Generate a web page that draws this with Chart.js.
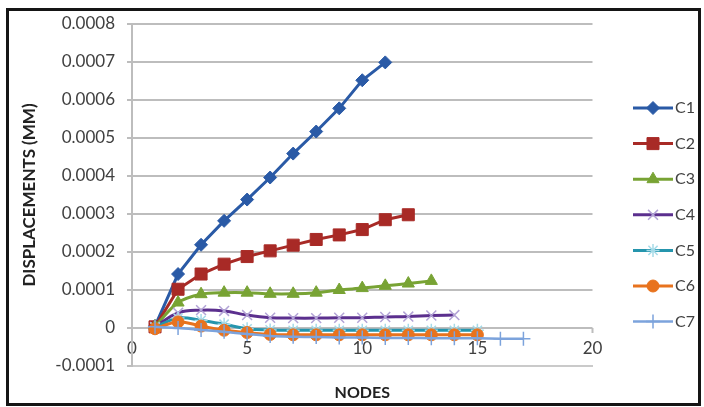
<!DOCTYPE html>
<html>
<head>
<meta charset="utf-8">
<script src="https://cdn.jsdelivr.net/npm/chart.js@4/dist/chart.umd.min.js"></script>
<style>
  html, body { margin: 0; padding: 0; background: #fff; }
  #wrap { position: relative; width: 704px; height: 407px; }
  #frame { position: absolute; left: 6px; top: 8px; width: 695px; height: 398px;
           border: 3px solid #151515; box-sizing: border-box; pointer-events: none; }
  canvas { position: absolute; left: 0; top: 0; }
</style>
</head>
<body>
<div id="wrap">
  <canvas id="c" width="704" height="407"></canvas>
  <div id="frame"></div>
</div>
<script>
// Node numbers along the column
const nodes = [1, 2, 3, 4, 5, 6, 7, 8, 9, 10, 11, 12, 13, 14, 15, 16, 17];

// Displacements (mm) per node for each column
const c1 = [0.000005, 0.000142, 0.000219, 0.000282, 0.000338, 0.000396, 0.000459, 0.000517, 0.000578, 0.000652, 0.000699];
const c2 = [0.000003, 0.000102, 0.000142, 0.000168, 0.000188, 0.000203, 0.000218, 0.000233, 0.000245, 0.000259, 0.000285, 0.000298];
const c3 = [0.000004, 0.000067, 0.000089, 0.000093, 0.000093, 0.000090, 0.000090, 0.000093, 0.000100, 0.000105, 0.000111, 0.000117, 0.000124];
const c4 = [0.000003, 0.000040, 0.000047, 0.000045, 0.000034, 0.000027, 0.000026, 0.000026, 0.000027, 0.000027, 0.000029, 0.000030, 0.000033, 0.000034];
const c5 = [0.000002, 0.000026, 0.000020, 0.000010, -0.000002, -0.000005, -0.000006, -0.000006, -0.000006, -0.000006, -0.000006, -0.000006, -0.000006, -0.000006, -0.000006];
const c6 = [-0.000002, 0.000016, 0.000005, -0.000006, -0.000012, -0.000017, -0.000018, -0.000018, -0.000018, -0.000018, -0.000018, -0.000018, -0.000018, -0.000018, -0.000018];
const c7 = [0.000003, 0.000000, -0.000005, -0.000010, -0.000016, -0.000021, -0.000023, -0.000024, -0.000025, -0.000025, -0.000026, -0.000026, -0.000027, -0.000027, -0.000027, -0.000028, -0.000028];

const seriesNames = ['C1', 'C2', 'C3', 'C4', 'C5', 'C6', 'C7'];
const seriesValues = [c1, c2, c3, c4, c5, c6, c7];

// Axis ticks
const xTicks = [0, 5, 10, 15, 20];
const yTicks = [-0.0001, 0, 0.0001, 0.0002, 0.0003, 0.0004, 0.0005, 0.0006, 0.0007, 0.0008];

const styles = [
  { line: '#2a5aa6', fill: '#2a5aa6', stroke: '#2a5aa6', point: 'rectRot', r: 6.5, bw: 1, tension: 0 },
  { line: '#a82a26', fill: '#a82a26', stroke: '#a82a26', point: 'rect',    r: 8.5, bw: 1, tension: 0 },
  { line: '#78a334', fill: '#78a334', stroke: '#78a334', point: 'triangle',r: 7,   bw: 1, tension: 0.3 },
  { line: '#5b2f8e', fill: 'rgba(0,0,0,0)', stroke: '#b2a3d6', point: 'crossRot', r: 7, bw: 1.5, tension: 0.4 },
  { line: '#2595ad', fill: 'rgba(0,0,0,0)', stroke: '#a6dbe8', point: 'star', r: 6.5, bw: 1.5, tension: 0.4 },
  { line: '#e8731e', fill: '#e8731e', stroke: '#e8731e', point: 'circle',  r: 6,   bw: 1, tension: 0.4 },
  { line: '#7ca3dc', fill: '#7ca3dc', stroke: '#7ca3dc', point: 'cross',   r: 7,   bw: 1.5, tension: 0.3 }
];

const FONT = 'Lato, "Open Sans", sans-serif';
const TEXT = '#404040';
const GRID = '#bdbdbd';

const datasets = seriesValues.map((vals, i) => ({
  label: seriesNames[i],
  data: vals.map((v, k) => ({ x: nodes[k], y: v })),
  showLine: true,
  borderColor: styles[i].line,
  backgroundColor: styles[i].line,
  borderWidth: i === 6 ? 2.5 : 3,
  tension: styles[i].tension,
  pointStyle: styles[i].point,
  pointRadius: styles[i].r,
  pointBackgroundColor: styles[i].fill,
  pointBorderColor: styles[i].stroke,
  pointBorderWidth: styles[i].bw,
  order: 7 - i
}));

// Short tick marks hanging below the zero line of the horizontal axis
const zeroAxisTicks = {
  id: 'zeroAxisTicks',
  beforeDatasetsDraw(chart) {
    const { ctx, scales: { x, y } } = chart;
    const y0 = y.getPixelForValue(0);
    ctx.save();
    ctx.strokeStyle = GRID;
    ctx.lineWidth = 2;
    xTicks.forEach(t => {
      const px = x.getPixelForValue(t);
      ctx.beginPath();
      ctx.moveTo(px, y0);
      ctx.lineTo(px, y0 + 5);
      ctx.stroke();
    });
    ctx.restore();
  }
};

// Legend at the right: a short line with the series marker, then the name
const sideLegend = {
  id: 'sideLegend',
  afterDraw(chart) {
    const { ctx } = chart;
    const x0 = 633, x1 = 673, top = 108, step = 35.6;
    ctx.save();
    chart.data.datasets.forEach((ds, i) => {
      const yy = top + i * step;
      ctx.strokeStyle = ds.borderColor;
      ctx.lineWidth = ds.borderWidth;
      ctx.beginPath();
      ctx.moveTo(x0, yy);
      ctx.lineTo(x1, yy);
      ctx.stroke();
      ctx.fillStyle = ds.pointBackgroundColor;
      ctx.strokeStyle = ds.pointBorderColor;
      ctx.lineWidth = ds.pointBorderWidth;
      Chart.helpers.drawPoint(ctx, {
        pointStyle: ds.pointStyle, radius: ds.pointRadius, rotation: 0, borderWidth: ds.pointBorderWidth
      }, (x0 + x1) / 2, yy);
      ctx.fillStyle = TEXT;
      ctx.font = '16px ' + FONT;
      ctx.textBaseline = 'middle';
      ctx.textAlign = 'left';
      ctx.fillText(ds.label, x1 + 2, yy);
    });
    ctx.restore();
  }
};

new Chart(document.getElementById('c'), {
  type: 'scatter',
  data: { datasets },
  options: {
    responsive: false,
    animation: false,
    devicePixelRatio: 1,
    layout: { padding: { left: 8, right: 111.5, top: 24, bottom: 4 } },
    plugins: { legend: { display: false }, tooltip: { enabled: false } },
    scales: {
      x: {
        type: 'linear',
        min: xTicks[0],
        max: xTicks[xTicks.length - 1],
        afterBuildTicks: s => { s.ticks = xTicks.map(v => ({ value: v })); },
        afterFit: s => { s.height = 37; },
        grid: { display: false, drawTicks: false },
        border: { display: true, color: '#cacaca', width: 2 },
        // labels sit just above the lower edge of the plot, over the bottom gridline
        ticks: { mirror: true, padding: 7, maxRotation: 0, autoSkip: false, color: TEXT, font: { family: FONT, size: 17 } },
        title: { display: true, text: 'NODES', color: '#222', font: { family: FONT, size: 16, weight: 'bold' }, padding: { top: 0, bottom: 1 } }
      },
      y: {
        min: yTicks[0],
        max: yTicks[yTicks.length - 1],
        afterBuildTicks: s => { s.ticks = yTicks.map(v => ({ value: v })); },
        afterFit: s => { s.width = 124; },
        grid: { color: GRID, lineWidth: 2, tickLength: 5 },
        border: { color: GRID, width: 2 },
        ticks: {
          padding: 12,
          color: TEXT,
          font: { family: FONT, size: 17 },
          callback: v => Math.abs(v) < 1e-9 ? '0' : v.toFixed(4)
        },
        title: { display: true, text: 'DISPLACEMENTS (MM)', color: '#222', font: { family: FONT, size: 17, weight: 'bold' }, padding: { top: 11, bottom: 0 } }
      }
    }
  },
  plugins: [zeroAxisTicks, sideLegend]
});
</script>
</body>
</html>
